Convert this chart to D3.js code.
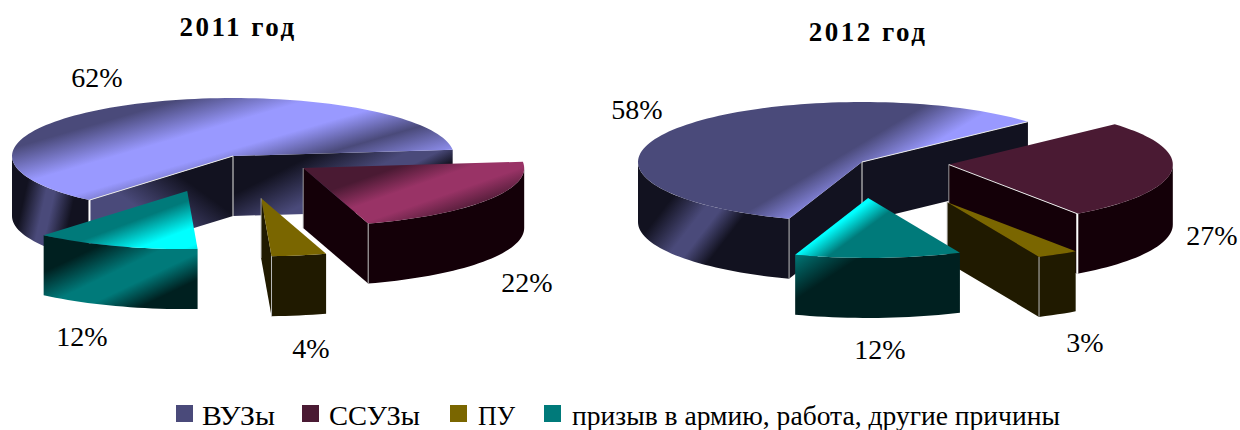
<!DOCTYPE html>
<html lang="ru">
<head>
<meta charset="utf-8">
<script src="https://cdn.jsdelivr.net/npm/d3@7"></script>
<style>
html,body{margin:0;padding:0;background:#fff}
svg{display:block}
text{font-family:"Liberation Serif",serif;fill:#000}
</style>
</head>
<body>
<svg id="chart" width="1240" height="430"></svg>
<script>
const categories = ["ВУЗы", "ССУЗы", "ПУ", "призыв в армию, работа, другие причины"];
const years = ["2011 год", "2012 год"];
const values2011 = [62, 22, 4, 12];
const values2012 = [58, 27, 3, 12];

// layout and style, kept apart from the data
const palette = [
  {swatch:"#4a4a7a", top:["#4a4a7a","#9999ff"], side:["#121220","#4a4a7a"]},
  {swatch:"#4a1a33", top:["#4a1a33","#993366"], side:["#140008","#140008"]},
  {swatch:"#7a6600", top:["#7a6600","#7a6600"], side:["#201a00","#201a00"]},
  {swatch:"#007a7a", top:["#007a7a","#00ffff"], side:["#002020","#007a7a"]}
];
const flat = {vec:[0,0,1,0], stops:[[0,0],[1,0]]};
const charts = [
  {values:values2011, explode:[0,.38,.74,.64], first:220.5, cx:233, cy:156, rx:221, ry:58, depth:60, title:[238,36],
   labels:[[97,87],[527,292],[311,358],[82,346]],
   rims:[{start:"both"},{},{},{}],
   fills:[
    {top:{vec:[0,0,1,.8],stops:[[0,0],[.24,0],[.42,1],[.55,1],[.7,0],[.88,1],[1,1]]},
     outer:{vec:[0,0,1,.3],stops:[[0,0],[.25,0],[.5,1],[.6,1],[.85,0],[1,0]]},
     start:{vec:[0,1,1,0],stops:[[0,1],[.42,1],[.72,0],[1,0]]},
     end:{vec:[0,0,1,.6],stops:[[0,0],[.3,0],[.6,1],[.7,1],[.82,0],[1,0]]}},
    {top:{vec:[0,0,1,.8],stops:[[0,0],[.3,0],[.5,1],[.65,1],[.85,0],[1,0]]}, outer:flat, start:flat, end:flat},
    {top:flat, outer:flat, start:flat, end:flat},
    {top:{vec:[0,0,1,1],stops:[[0,0],[.55,0],[.8,1],[.95,1],[1,.8]]},
     outer:{vec:[0,0,1,1],stops:[[0,0],[.25,0],[.48,1],[.62,1],[.8,0],[1,0]]}, start:flat, end:flat}
   ]},
  {values:values2012, explode:[0,.39,.77,.6], first:199, cx:862, cy:162, rx:224, ry:60, depth:60, title:[868,41],
   labels:[[637,119],[1212,245],[1085,352],[880,359]],
   rims:[{end:"top"},{end:"both"},{},{}],
   fills:[
    {top:{vec:[0,0,1,.5],stops:[[0,0],[.6,0],[.75,1],[1,1]]},
     outer:{vec:[0,0,1,.6],stops:[[0,0],[.3,0],[.5,1],[.58,1],[.72,0],[1,0]]}, start:flat, end:flat},
    {top:{vec:[0,0,1,.5],stops:[[0,.3],[.08,0],[1,0]]}, outer:flat, start:flat, end:flat},
    {top:flat, outer:flat, start:flat, end:flat},
    {top:{vec:[0,0,1,.5],stops:[[0,1],[.38,1],[.55,0],[1,0]]},
     outer:{vec:[0,0,1,.6],stops:[[0,1],[.32,0],[1,0]]}, start:flat, end:flat}
   ]}
];
const legendMarks = [[176,202,73],[302,329,91],[450,478,37],[544,572,488]];

const svg = d3.select("#chart");
const defs = svg.append("defs");
let gid = 0;
function gradient(spec, colors){
  const id = "g" + (gid++);
  const g = defs.append("linearGradient").attr("id", id)
    .attr("x1",spec.vec[0]).attr("y1",spec.vec[1]).attr("x2",spec.vec[2]).attr("y2",spec.vec[3]);
  const mix = d3.interpolateRgb(colors[0], colors[1]);
  spec.stops.forEach(s => g.append("stop").attr("offset",s[0]).attr("stop-color",mix(s[1])));
  return "url(#" + id + ")";
}
const rad = d => d * Math.PI / 180;
const line = d3.line();

charts.forEach((c, ci) => {
  const xs = d3.scaleLinear().domain([-1,1]).range([c.cx-c.rx, c.cx+c.rx]);
  const ys = d3.scaleLinear().domain([-1,1]).range([c.cy-c.ry, c.cy+c.ry]);
  const arcs = d3.pie().sort(null).value(d=>d)
    .startAngle(rad(c.first)).endAngle(rad(c.first)+2*Math.PI)(c.values);
  const g = svg.append("g");

  arcs.forEach((a, i) => {
    const mid = (a.startAngle + a.endAngle)/2;
    const ox = xs(Math.sin(mid)*c.explode[i]) - xs(0);
    const oy = ys(-Math.cos(mid)*c.explode[i]) - ys(0);
    const P = (t, z=0) => [xs(Math.sin(t)) + ox, ys(-Math.cos(t)) + oy + z];
    const O = (z=0) => [xs(0)+ox, ys(0)+oy+z];
    const along = (t0,t1) => d3.range(0,1.0001,1/Math.max(2,Math.ceil(Math.abs(t1-t0)/rad(2)))).map(f=>t0+(t1-t0)*f);
    const sl = g.append("g");
    const pal = palette[i], fill = c.fills[i], d = c.depth;

    // cut walls facing the viewer
    const wall = (t, spec) => sl.append("path")
      .attr("d", line([O(), P(t), P(t,d), O(d)]) + "Z")
      .attr("fill", gradient(spec, pal.side));
    if (Math.sin(a.startAngle) < 0) wall(a.startAngle, fill.start);
    if (Math.sin(a.endAngle) > 0) wall(a.endAngle, fill.end);

    // outer wall: only the part of the rim on the front half
    const ranges = [];
    [0,1].forEach(k => {
      const lo = Math.max(a.startAngle, rad(90)+k*2*Math.PI);
      const hi = Math.min(a.endAngle, rad(270)+k*2*Math.PI);
      if (hi > lo) ranges.push([lo,hi]);
    });
    ranges.forEach(([lo,hi]) => {
      const ts = along(lo,hi);
      sl.append("path")
        .attr("d", line(ts.map(t=>P(t)).concat(ts.slice().reverse().map(t=>P(t,d)))) + "Z")
        .attr("fill", gradient(fill.outer, pal.side));
    });

    // top face
    const ts = along(a.startAngle, a.endAngle);
    sl.append("path")
      .attr("d", line([O()].concat(ts.map(t=>P(t)))) + "Z")
      .attr("fill", gradient(fill.top, pal.top));

    // thin light edges
    const edge = (p,q,w,col) => sl.append("path").attr("d", line([p,q]))
      .attr("stroke",col).attr("stroke-width",w).attr("fill","none");
    const edgeCol = "#b9b9b9";
    [[a.startAngle, Math.sin(a.startAngle) < 0],[a.endAngle, Math.sin(a.endAngle) > 0]].forEach(([t,vis]) => {
      if (!vis) return;
      edge(O(),O(d),.8,edgeCol);
      if (Math.cos(t) < 0) edge(P(t),P(t,d),1,edgeCol);
    });
    Object.entries(c.rims[i]).forEach(([k,mode]) => {
      const t = k === "start" ? a.startAngle : a.endAngle;
      edge(O(), P(t), 1, "#e8e8e8");
      if (mode === "both") edge(P(t), P(t,d), 2, "#ffffff");
    });

    // percentage label
    g.append("text").attr("x",c.labels[i][0]).attr("y",c.labels[i][1])
      .attr("text-anchor","middle").attr("font-size",28)
      .text(c.values[i] + "%");
  });

  svg.append("text").attr("x",c.title[0]).attr("y",c.title[1]).attr("text-anchor","middle")
    .attr("font-size",27).attr("font-weight","bold").attr("letter-spacing",2.5).text(years[ci]);
});

// legend
const legend = svg.append("g");
categories.forEach((name,i) => {
  legend.append("rect").attr("x",legendMarks[i][0]).attr("y",405).attr("width",17).attr("height",17)
    .attr("fill",palette[i].swatch);
  legend.append("text").attr("x",legendMarks[i][1]).attr("y",425).attr("font-size",27)
    .attr("textLength",legendMarks[i][2]).attr("lengthAdjust","spacingAndGlyphs").text(name);
});
</script>
</body>
</html>
